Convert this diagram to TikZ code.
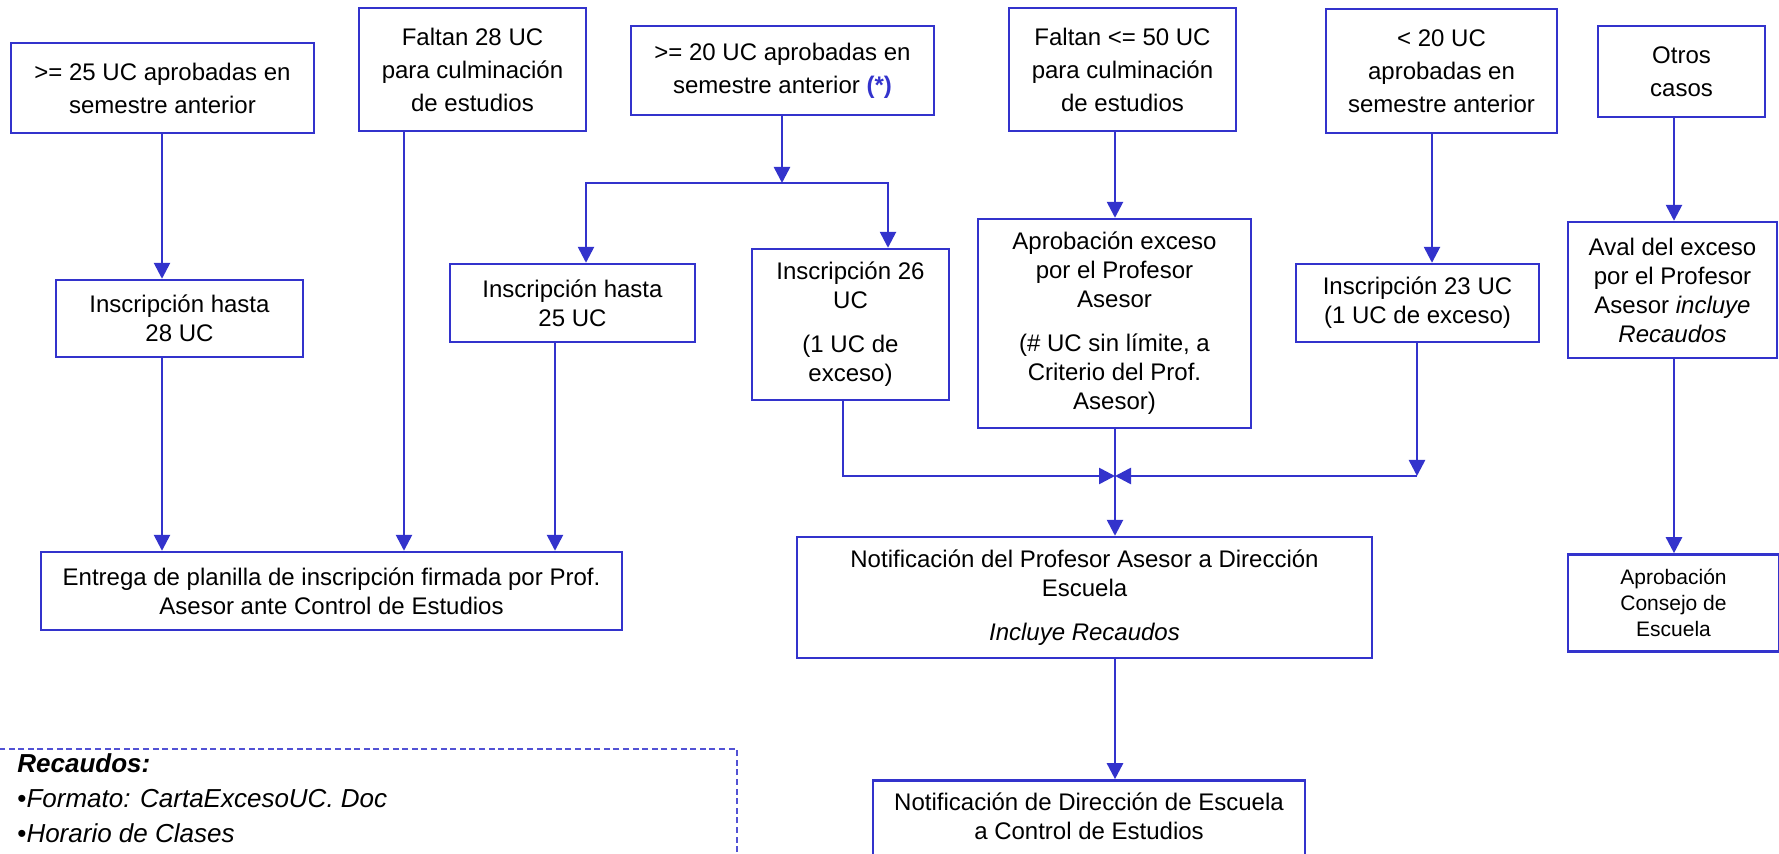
\documentclass[tikz,border=0pt]{standalone}
\usepackage{fontspec}
\setmainfont{Liberation Sans}
\usepackage{tikz}
\usetikzlibrary{arrows.meta,positioning}
\definecolor{flowblue}{RGB}{51,51,204}

\begin{document}
\begin{tikzpicture}
  [x=0.5pt, y=-0.5pt,
 box/.style={
  rectangle,
  draw=flowblue,
  line width=1.2pt, % border
  align=center,
  inner sep=2pt,
  font=\fontsize{12}{14.5}\selectfont},
 topbox/.style={
  box,
  font=\fontsize{12}{16.5}\selectfont},
 arr/.style={-{Triangle[width=8pt,length=8pt]}, draw=flowblue, line width=1.3pt}]
\useasboundingbox (0,0) rectangle (1779,854);
% conditions
\node (reqA) [topbox, minimum width=151.5pt, minimum height=45pt] at (162.5,88) {>= 25 UC aprobadas en\\semestre anterior};
\node (falta28) [topbox, minimum width=113.5pt, minimum height=61.5pt] at (472.5,69.5) {Faltan 28 UC\\para culminación\\de estudios};
\node (reqC) [topbox, minimum width=151.5pt, minimum height=44.5pt] at (782.5,70.5) {>= 20 UC aprobadas en\\semestre anterior \textcolor{flowblue}{\textbf{(*)}}};
\node (falta50) [topbox, minimum width=113.5pt, minimum height=61.5pt] at (1122.5,69.5) {Faltan <= 50 UC\\para culminación\\de estudios};
\node (menos20) [topbox, minimum width=115.5pt, minimum height=62pt] at (1441.5,71) {< 20 UC\\aprobadas en\\semestre anterior};
\node (otros) [topbox, minimum width=83.5pt, minimum height=45.5pt] at (1681.5,71.5) {Otros\\casos};
% inscripciones
\node (insc28) [box, minimum width=123.5pt, minimum height=38.5pt] at (179.5,318.5) {Inscripción hasta\\28 UC};
\node (insc25) [box, minimum width=122.5pt, minimum height=39pt] at (572.5,303) {Inscripción hasta\\25 UC};
\node (insc26) [box, minimum width=98.5pt, minimum height=75.5pt] at (850.5,324.5) {Inscripción 26\\UC\\[7.5pt](1 UC de\\exceso)};
\node (aprob) [box, minimum width=136.5pt, minimum height=104.5pt] at (1114.5,323.5) {Aprobación exceso\\por el Profesor\\Asesor\\[7.5pt](\# UC sin límite, a\\Criterio del Prof.\\Asesor)};
\node (insc23) [box, minimum width=121.5pt, minimum height=39pt] at (1417.5,303) {Inscripción 23 UC\\(1 UC de exceso)};
\node (aval) [box, minimum width=104.5pt, minimum height=68pt] at (1672.5,290) {Aval del exceso\\por el Profesor\\Asesor \textit{incluye}\\\textit{Recaudos}};
% resultados
\node (entrega) [box, minimum width=290.5pt, minimum height=39pt] at (331.5,591) {Entrega de planilla de inscripción firmada por Prof.\\Asesor ante Control de Estudios};
\node (notifProf) [box, minimum width=287.5pt, minimum height=60.5pt] at (1084.5,597.5) {Notificación del Profesor Asesor a Dirección\\Escuela\\[7.5pt]\textit{Incluye Recaudos}};
\node (notifDir) [box, minimum width=216pt, minimum height=44pt, text depth=8pt, below=60pt of notifProf, xshift=2.25pt] {Notificación de Dirección de Escuela\\a Control de Estudios};
\node (consejo) [box, minimum width=105.5pt, minimum height=48.5pt, font=\fontsize{10.5}{13}\selectfont, below=97pt of aval, xshift=0.5pt] {Aprobación\\Consejo de\\Escuela};
% recaudos
\draw[flowblue!85, dash pattern=on 3pt off 1.8pt, line width=0.6pt] (-5,749) rectangle (737,900);
\node (recaudos) [anchor=north west, align=left, inner sep=0pt, font=\fontsize{13}{17.5}\selectfont] at (17,753) {\textbf{\textit{Recaudos:}}\\•\textit{Formato: CartaExcesoUC. Doc}\\•\textit{Horario de Clases}};
% lanes and junctions
\coordinate (laneA) at (162,0);
\coordinate (laneB) at (404,0);
\coordinate (laneH) at (555,0);
\coordinate (laneHin) at (586,0);
\coordinate (laneIin) at (888,0);
\coordinate (laneI) at (843,0);
\coordinate (laneE) at (1432,0);
\coordinate (laneF) at (1674,0);
\coordinate (split) at (782,183);
\coordinate (merge) at (1115,476);
\coordinate (kcorner) at (1417,476);
% connectors
\draw[arr] (reqA.south -| laneA) -- (insc28.north -| laneA);
\draw[arr] (insc28.south -| laneA) -- (entrega.north -| laneA);
\draw[arr] (falta28.south -| laneB) -- (entrega.north -| laneB);
\draw[arr] (insc25.south -| laneH) -- (entrega.north -| laneH);
\draw[arr] (reqC.south -| split) -- (split);
\draw[arr] (split) -| (insc25.north -| laneHin);
\draw[arr] (split) -| (insc26.north -| laneIin);
\draw[arr] (falta50.south -| merge) -- (aprob.north -| merge);
\draw[arr] (menos20.south -| laneE) -- (insc23.north -| laneE);
\draw[arr] (otros.south -| laneF) -- (aval.north -| laneF);
\draw[arr] (aval.south -| laneF) -- (consejo.north -| laneF);
\draw[arr] (insc26.south -| laneI) |- (merge);
\draw[arr] (insc23.south -| kcorner) -- (kcorner);
\draw[arr] (kcorner) -- (merge);
\draw[arr] (aprob.south -| merge) -- (notifProf.north -| merge);
\draw[arr] (notifProf.south -| merge) -- (notifDir.north -| merge);
\end{tikzpicture}
\end{document}
